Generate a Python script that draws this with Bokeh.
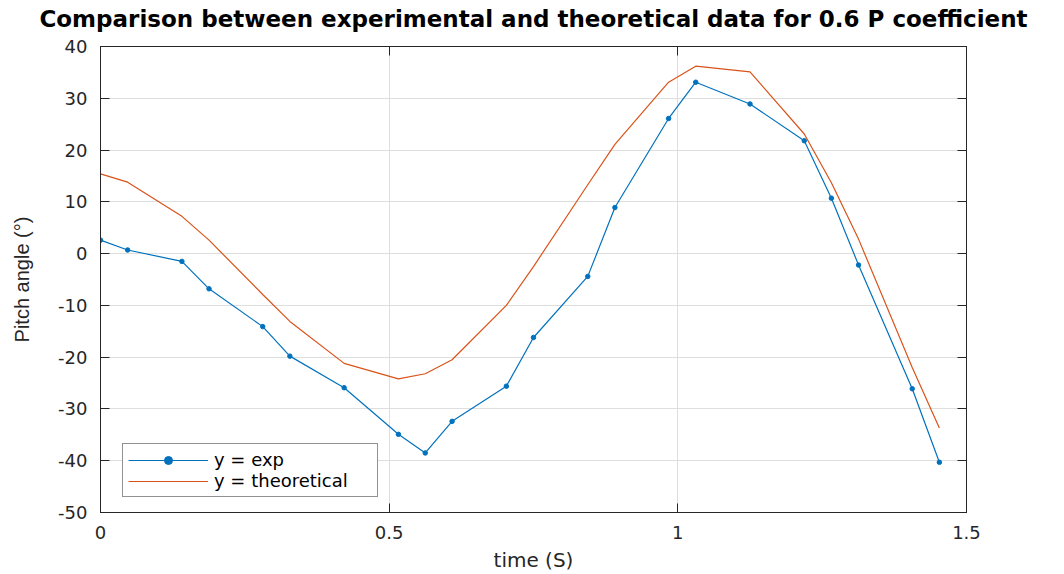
from bokeh.plotting import figure
from bokeh.models import (Range1d, FixedTicker, LinearAxis, Legend, LegendItem,
                          CustomLabelingPolicy)
from bokeh.embed import file_html
from bokeh.resources import INLINE

# time (s)
t = [0, 0.047, 0.141, 0.188, 0.281, 0.328, 0.422, 0.516, 0.5625, 0.609, 0.703,
     0.75, 0.844, 0.891, 0.984, 1.031, 1.125, 1.219, 1.266, 1.313, 1.406, 1.453]
# experimental pitch angle (deg)
y_exp = [2.6, 0.7, -1.5, -6.8, -14.1, -19.8, -25.9, -34.9, -38.5, -32.4, -25.6,
         -16.2, -4.4, 8.9, 26.1, 33.1, 28.9, 21.8, 10.7, -2.2, -26.1, -40.3]
# theoretical pitch angle (deg)
y_theo = [15.4, 13.8, 7.2, 2.6, -7.9, -13.1, -21.2, -24.2, -23.2, -20.5, -10.0,
          -2.5, 13.3, 21.1, 33.1, 36.2, 35.1, 23.1, 13.7, 2.8, -22.0, -33.7]

x_ticks = [0, 0.5, 1, 1.5]
x_tick_labels = ["0", "0.5", "1", "1.5"]
y_ticks = [-50, -40, -30, -20, -10, 0, 10, 20, 30, 40]
y_tick_labels = ["-50", "-40", "-30", "-20", "-10", "0", "10", "20", "30", "40"]

BLUE = "#0072BD"
ORANGE = "#D95319"
DARK = "#262626"

p = figure(width=1064, height=574, output_backend="svg", toolbar_location=None,
           x_range=Range1d(0, 1.5), y_range=Range1d(-50, 40),
           min_border_left=100, min_border_right=98, min_border_top=37, min_border_bottom=62,
           title="Comparison between experimental and theoretical data for 0.6 P coefficient")

p.title.text_font = "DejaVu Sans"
p.title.text_font_size = "23px"
p.title.text_font_style = "bold"
p.title.text_color = "black"
p.title.align = "center"
p.title.standoff = 7
p.title.offset = 0

p.outline_line_color = DARK
p.outline_line_width = 1
p.background_fill_color = "white"
p.border_fill_color = "white"

p.xgrid.ticker = FixedTicker(ticks=x_ticks)
p.ygrid.ticker = FixedTicker(ticks=y_ticks)
p.xgrid.grid_line_color = "#dedede"
p.ygrid.grid_line_color = "#dedede"

xa = p.xaxis[0]
xa.ticker = FixedTicker(ticks=x_ticks)
xa.major_label_overrides = {v: s for v, s in zip(x_ticks, x_tick_labels)}
xa.axis_label = "time (S)"
ya = p.yaxis[0]
ya.ticker = FixedTicker(ticks=y_ticks)
ya.major_label_overrides = {v: s for v, s in zip(y_ticks, y_tick_labels)}
ya.axis_label = "Pitch angle (°)"

for ax in (xa, ya):
    ax.major_tick_in = 9
    ax.major_tick_out = 0
    ax.minor_tick_line_color = None
    ax.axis_line_color = DARK
    ax.major_tick_line_color = DARK
    ax.major_label_text_color = DARK
    ax.major_label_text_font = "DejaVu Sans"
    ax.major_label_text_font_size = "18px"
    ax.axis_label_text_font_style = "normal"
    ax.axis_label_text_color = DARK

xa.major_label_standoff = 13
xa.axis_label_standoff = 6
xa.axis_label_text_font = "DejaVu Sans"
xa.axis_label_text_font_size = "20px"
ya.major_label_standoff = 13
ya.axis_label_standoff = 22
ya.axis_label_text_font = "Liberation Sans"
ya.axis_label_text_font_size = "20px"

hide = CustomLabelingPolicy(code="""
const out = indices.clone()
for (const i of indices) out.unset(i)
return out
""")

top = LinearAxis(ticker=FixedTicker(ticks=x_ticks), major_label_policy=hide,
                 major_tick_in=9, major_tick_out=0, minor_tick_line_color=None,
                 axis_line_color=DARK, major_tick_line_color=DARK, major_label_standoff=0)
right = LinearAxis(ticker=FixedTicker(ticks=y_ticks), major_label_policy=hide,
                   major_tick_in=9, major_tick_out=0, minor_tick_line_color=None,
                   axis_line_color=DARK, major_tick_line_color=DARK, major_label_standoff=0)
p.add_layout(top, "above")
p.add_layout(right, "right")

l_exp = p.line(t, y_exp, line_color=BLUE, line_width=1.2)
s_exp = p.scatter(t, y_exp, size=4.5, color=BLUE)
l_theo = p.line(t, y_theo, line_color=ORANGE, line_width=1.2)

legend = Legend(items=[LegendItem(label="y = exp", renderers=[l_exp, s_exp]),
                       LegendItem(label="y = theoretical", renderers=[l_theo])],
                location=(22, 15), border_line_color=DARK, border_line_width=1,
                background_fill_color="white", background_fill_alpha=1,
                label_text_font="DejaVu Sans", label_text_font_size="18px",
                label_text_color="black",
                glyph_width=80, glyph_height=20, label_height=20, label_width=158,
                label_standoff=6, padding=5, spacing=0, margin=0)
p.add_layout(legend, "center")

open("out.html", "w").write(file_html(p, INLINE))
